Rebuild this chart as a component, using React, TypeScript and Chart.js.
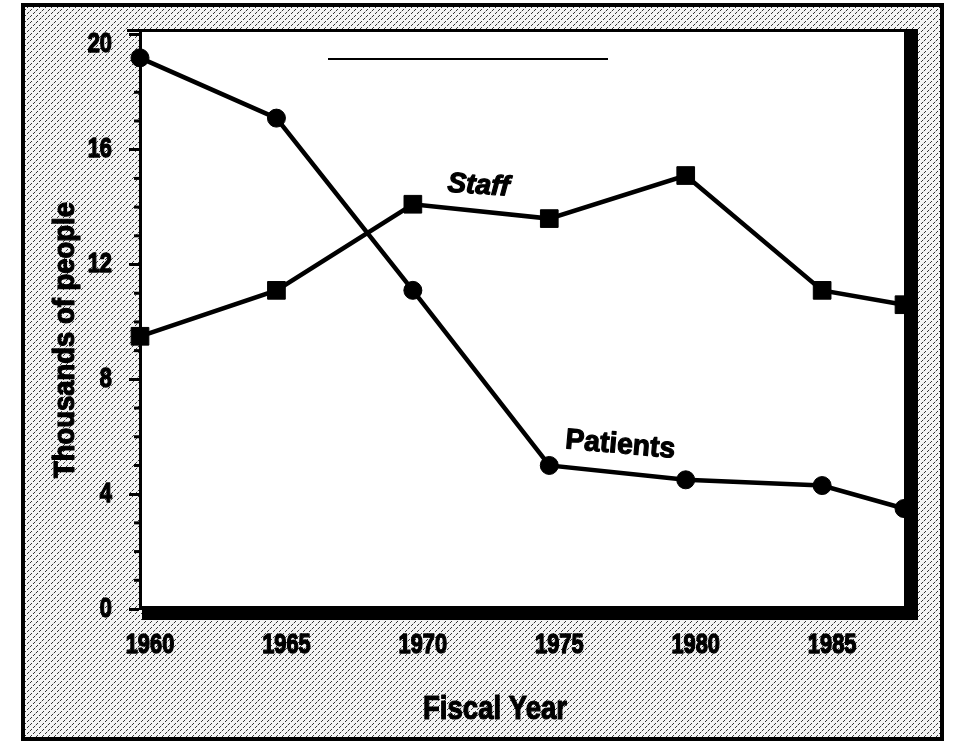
import React, { useEffect, useRef } from "react";
import { Chart, registerables } from "chart.js";

Chart.register(...registerables);

// ---- data ----
const years = [1960, 1965, 1970, 1975, 1980, 1985, 1988];
const patients = [19.2, 17.1, 11.1, 5.0, 4.5, 4.3, 3.5];
const staff = [9.5, 11.1, 14.1, 13.6, 15.1, 11.1, 10.6];
const xTickYears = [1960, 1965, 1970, 1975, 1980, 1985];
const yTickValues = [0, 4, 8, 12, 16, 20];
const yMinorTicks = [1, 2, 3, 5, 6, 7, 9, 10, 11, 13, 14, 15, 17, 18, 19];
const yTitle = "Thousands of people";
const xTitle = "Fiscal Year";
const staffLabel = "Staff";
const patientsLabel = "Patients";

const SANS = "'Liberation Sans', Arial, sans-serif";
const TICK_FONT = `bold 28px ${SANS}`;
const TICK_SQUEEZE = 0.78;

function makeStipple(ctx: CanvasRenderingContext2D) {
  const c = document.createElement("canvas");
  c.width = 6;
  c.height = 6;
  const g = c.getContext("2d")!;
  g.fillStyle = "#f4f4f4";
  g.fillRect(0, 0, 6, 6);
  g.fillStyle = "#333";
  [[4, 0], [3, 1], [1, 3], [0, 4]].forEach(([x, y]) => g.fillRect(x, y, 1, 1));
  g.fillStyle = "#bbb";
  [[5, 5]].forEach(([x, y]) => g.fillRect(x, y, 1, 1));
  return ctx.createPattern(c, "repeat")!;
}

function drawFitText(
  ctx: CanvasRenderingContext2D,
  text: string,
  cx: number,
  cy: number,
  targetW: number,
  font: string,
  rot: number
) {
  ctx.save();
  ctx.font = font;
  const w = ctx.measureText(text).width;
  ctx.translate(cx, cy);
  ctx.rotate(rot);
  ctx.scale(targetW / w, 1);
  ctx.textAlign = "center";
  ctx.textBaseline = "middle";
  ctx.fillStyle = "#000";
  ctx.strokeStyle = "#000";
  ctx.lineWidth = 1.2;
  ctx.lineJoin = "round";
  ctx.fillText(text, 0, 0);
  ctx.strokeText(text, 0, 0);
  ctx.restore();
}

function drawSqueezed(
  ctx: CanvasRenderingContext2D,
  text: string,
  x: number,
  y: number,
  align: CanvasTextAlign
) {
  ctx.save();
  ctx.font = TICK_FONT;
  ctx.translate(x, y);
  ctx.scale(TICK_SQUEEZE, 1);
  ctx.textAlign = align;
  ctx.textBaseline = "middle";
  ctx.fillStyle = "#000";
  ctx.strokeStyle = "#000";
  ctx.lineWidth = 1.4;
  ctx.lineJoin = "round";
  ctx.fillText(text, 0, 0);
  ctx.strokeText(text, 0, 0);
  ctx.restore();
}

const decorPlugin = {
  id: "decor",
  beforeDraw(chart: any) {
    const { ctx, chartArea: a } = chart;
    ctx.save();
    ctx.fillStyle = "#ffffff";
    ctx.fillRect(0, 0, chart.width, chart.height);
    ctx.fillStyle = makeStipple(ctx);
    ctx.fillRect(23, 5, 919, 734);
    ctx.fillStyle = "#ffffff";
    ctx.fillRect(a.left, a.top, a.right - a.left, a.bottom - a.top);
    ctx.strokeStyle = "#000";
    ctx.lineWidth = 4;
    ctx.strokeRect(23, 5, 919, 734);
    ctx.restore();
  },
  afterDatasetsDraw(chart: any) {
    const { ctx, chartArea: a } = chart;
    const ys = chart.scales.y;
    ctx.save();
    ctx.fillStyle = "#000";
    // thick right and bottom frame
    ctx.fillRect(a.right, a.top - 2, 14, a.bottom - a.top + 13);
    ctx.fillRect(a.left + 2, a.bottom - 3, a.right - a.left + 12, 14);
    // thin top frame
    ctx.fillRect(a.left - 13, a.top - 3, a.right - a.left + 27, 3);
    // stray rule near top
    ctx.fillRect(328, 58, 280, 2);
    // minor ticks on y axis
    yMinorTicks.forEach((v) => {
      const py = ys.getPixelForValue(v);
      ctx.fillRect(a.left - 6, py - 1.5, 5, 3);
    });
    ctx.restore();
  },
  afterDraw(chart: any) {
    const { ctx, chartArea: a } = chart;
    const xs = chart.scales.x;
    const ys = chart.scales.y;
    // tick labels (positions from the library's scales)
    xTickYears.forEach((v) => {
      drawSqueezed(ctx, String(v), xs.getPixelForValue(v) + 10, a.bottom + 36, "center");
    });
    yTickValues.forEach((v) => {
      const py = Math.max(ys.getPixelForValue(v), a.top + 12);
      drawSqueezed(ctx, String(v), a.left - 28, py, "right");
    });
    drawFitText(ctx, yTitle, 66, 340, 276, `bold 30px ${SANS}`, -Math.PI / 2);
    drawFitText(ctx, xTitle, 495, 710, 144, `bold 33px ${SANS}`, 0);
    drawFitText(
      ctx,
      staffLabel,
      xs.getPixelForValue(1972.4),
      ys.getPixelForValue(14.74),
      62,
      `italic bold 28px ${SANS}`,
      (4 * Math.PI) / 180
    );
    drawFitText(
      ctx,
      patientsLabel,
      xs.getPixelForValue(1977.6),
      ys.getPixelForValue(5.71),
      110,
      `bold 29px ${SANS}`,
      (5 * Math.PI) / 180
    );
  },
};

export default function App() {
  const ref = useRef<HTMLCanvasElement | null>(null);

  useEffect(() => {
    if (!ref.current) return;
    const chart = new Chart(ref.current, {
      type: "line",
      data: {
        datasets: [
          {
            label: "Patients",
            data: years.map((y, i) => ({ x: y, y: patients[i] })),
            borderColor: "#000",
            backgroundColor: "#000",
            borderWidth: 4.5,
            pointStyle: "circle",
            pointRadius: 9,
            pointBorderWidth: 1,
            pointBackgroundColor: "#000",
            pointBorderColor: "#000",
            tension: 0,
            clip: false as any,
          },
          {
            label: "Staff",
            data: years.map((y, i) => ({ x: y, y: staff[i] })),
            borderColor: "#000",
            backgroundColor: "#000",
            borderWidth: 4.5,
            pointStyle: "rect",
            pointRadius: 12.5,
            pointBorderWidth: 1,
            pointBackgroundColor: "#000",
            pointBorderColor: "#000",
            tension: 0,
            clip: false as any,
          },
        ],
      },
      options: {
        responsive: false,
        animation: false,
        devicePixelRatio: 1,
        layout: { padding: { left: 0, top: 32, right: 56, bottom: 0 } },
        plugins: {
          legend: { display: false },
          tooltip: { enabled: false },
        },
        scales: {
          x: {
            type: "linear",
            min: 1960,
            max: 1988,
            afterBuildTicks: (s: any) => {
              s.ticks = xTickYears.map((v) => ({ value: v }));
            },
            afterFit: (s: any) => {
              s.height = 135;
            },
            grid: { display: false, drawTicks: false, tickLength: 0 },
            border: { display: false },
            ticks: { display: false },
          },
          y: {
            type: "linear",
            min: 0,
            max: 20.1,
            afterBuildTicks: (s: any) => {
              s.ticks = yTickValues.map((v) => ({ value: v }));
            },
            afterFit: (s: any) => {
              s.width = 140;
            },
            grid: {
              display: true,
              drawOnChartArea: false,
              drawTicks: true,
              tickLength: 11,
              tickWidth: 3,
              tickColor: "#000",
              color: "#000",
            },
            border: { display: true, color: "#000", width: 3 },
            ticks: { display: false },
          },
        },
      },
      plugins: [decorPlugin],
    });
    return () => chart.destroy();
  }, []);

  return (
    <div style={{ position: "absolute", left: 0, top: 0, width: 960, height: 744 }}>
      <canvas ref={ref} width={960} height={744} style={{ display: "block" }} />
    </div>
  );
}
